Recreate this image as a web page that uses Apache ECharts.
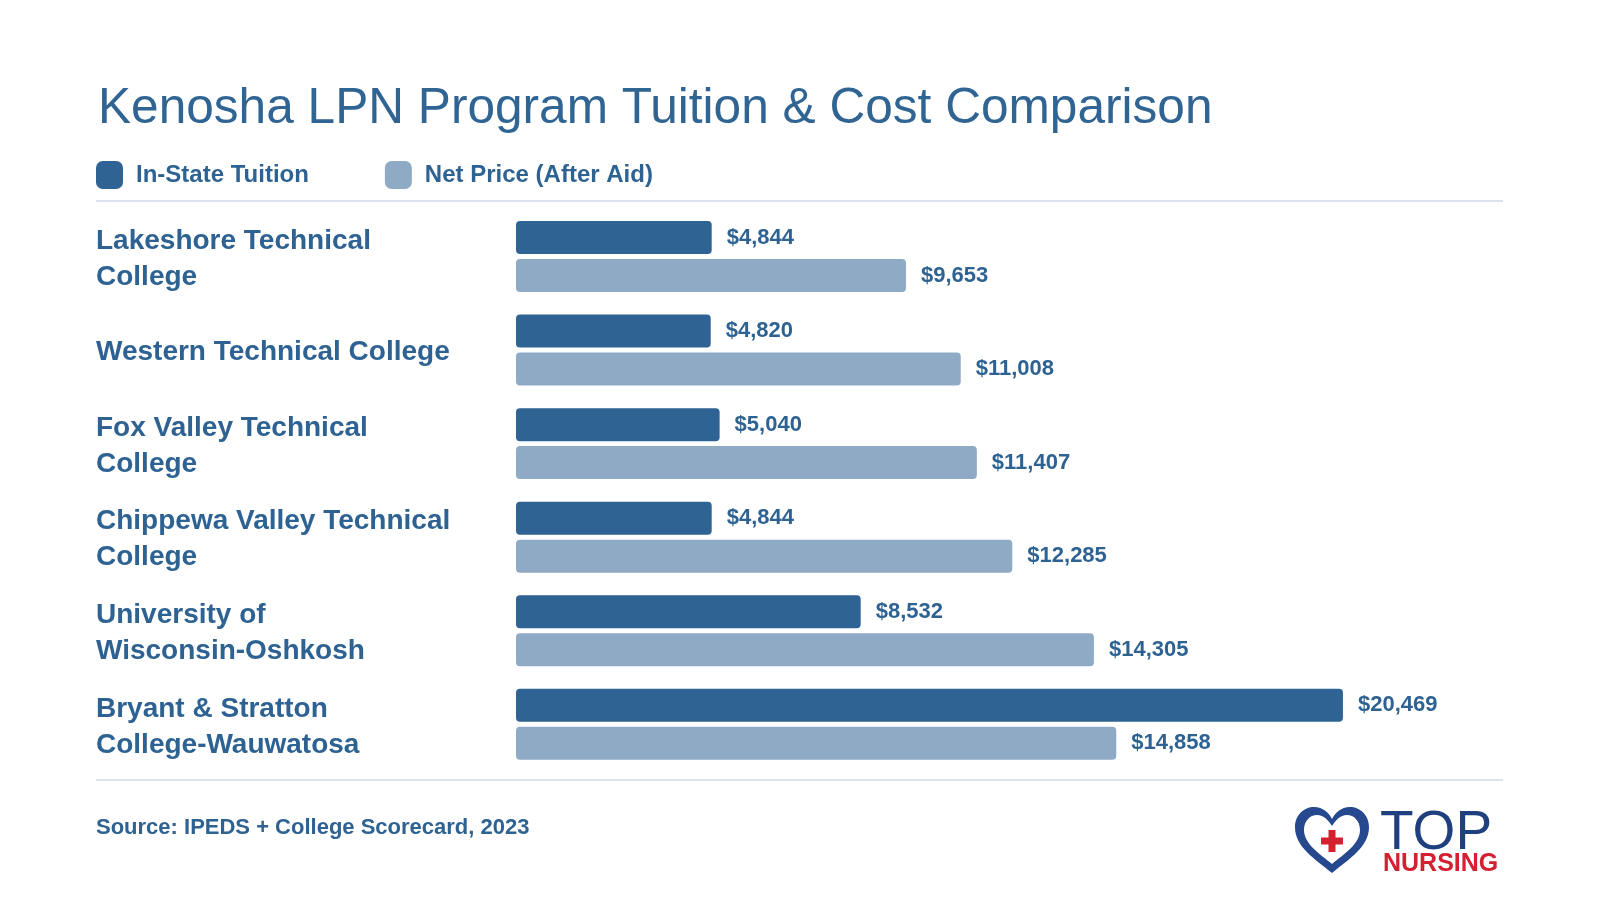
<!DOCTYPE html>
<html>
<head>
<meta charset="utf-8">
<script src="https://cdn.jsdelivr.net/npm/echarts@6/dist/echarts.min.js"></script>
<style>
html,body{margin:0;padding:0;background:#fff;}
#chart{width:1600px;height:900px;}
</style>
</head>
<body>
<div id="chart"></div>
<script>
const categories = [
  "Lakeshore Technical\nCollege",
  "Western Technical College",
  "Fox Valley Technical\nCollege",
  "Chippewa Valley Technical\nCollege",
  "University of\nWisconsin-Oshkosh",
  "Bryant & Stratton\nCollege-Wauwatosa"
];
const inStateTuition = [4844, 4820, 5040, 4844, 8532, 20469];
const netPrice = [9653, 11008, 11407, 12285, 14305, 14858];
const seriesNames = ["In-State Tuition", "Net Price (After Aid)"];
const titleText = "Kenosha LPN Program Tuition & Cost Comparison";
const sourceText = "Source: IPEDS + College Scorecard, 2023";

const FONT = '"Liberation Sans", Arial, Helvetica, sans-serif';
const TEXT = '#2d6292';
const DARK = '#2f6393';
const LIGHT = '#8faac5';

const fmt = v => '$' + v.toLocaleString('en-US');

const heartSvg = '<svg xmlns="http://www.w3.org/2000/svg" width="74" height="66" viewBox="0 0 74 66">' +
  '<path d="M37,66 C20,52 0,40 0,20 C0,8 9,0 19,0 C28,0 34,6 37,12 C40,6 46,0 55,0 C65,0 74,8 74,20 C74,40 54,52 37,66 Z" fill="#25488f"/>' +
  '<path d="M37,57 C25,47 9,37 9,23 C9,14 15,8 22,8 C29,8 33,13 37,19 C41,13 45,8 52,8 C59,8 65,14 65,23 C65,37 49,47 37,57 Z" fill="#ffffff"/>' +
  '<rect x="26" y="30.5" width="22" height="7" fill="#d42030"/>' +
  '<rect x="33.5" y="23" width="7" height="22" fill="#d42030"/>' +
  '</svg>';
const heartUri = 'data:image/svg+xml;charset=utf-8,' + encodeURIComponent(heartSvg);

const chart = echarts.init(document.getElementById('chart'));
chart.setOption({
  backgroundColor: '#ffffff',
  animation: false,
  title: {
    text: titleText,
    left: 93,
    top: 74,
    textStyle: { fontFamily: FONT, fontSize: 49.6, fontWeight: 'normal', color: '#2f6493', lineHeight: 60 }
  },
  legend: {
    left: 91,
    top: 156,
    itemWidth: 27,
    itemHeight: 28,
    itemGap: 76,
    icon: 'roundRect',
    selectedMode: false,
    textStyle: { fontFamily: FONT, fontSize: 24, fontWeight: 'bold', color: TEXT, padding: [0, 0, 0, 8] },
    data: seriesNames
  },
  grid: {
    left: 516,
    top: 209.7,
    width: 1010,
    height: 561.4,
    containLabel: false,
    outerBoundsMode: 'none'
  },
  xAxis: {
    type: 'value',
    min: 0,
    max: 25000,
    show: false
  },
  yAxis: {
    type: 'category',
    inverse: true,
    data: categories,
    axisLine: { show: false },
    axisTick: { show: false },
    splitLine: { show: false },
    axisLabel: {
      align: 'left',
      margin: 420,
      formatter: v => '{s| }\n' + v.split('\n').map(l => '{n|' + l + '}').join('\n'),
      rich: {
        s: { fontSize: 1, lineHeight: 5 },
        n: { fontFamily: FONT, fontSize: 28, fontWeight: 'bold', color: TEXT, lineHeight: 36 }
      }
    }
  },
  series: [
    {
      name: seriesNames[0],
      type: 'bar',
      data: inStateTuition,
      barWidth: 33,
      barGap: '15%',
      itemStyle: { color: DARK, borderRadius: 4 },
      label: {
        show: true, position: 'right', distance: 15,
        formatter: p => fmt(p.value),
        fontFamily: FONT, fontSize: 22, fontWeight: 'bold', color: TEXT
      }
    },
    {
      name: seriesNames[1],
      type: 'bar',
      data: netPrice,
      barWidth: 33,
      barGap: '15%',
      itemStyle: { color: LIGHT, borderRadius: 4 },
      label: {
        show: true, position: 'right', distance: 15,
        formatter: p => fmt(p.value),
        fontFamily: FONT, fontSize: 22, fontWeight: 'bold', color: TEXT
      }
    }
  ],
  graphic: [
    { type: 'line', shape: { x1: 96, y1: 201, x2: 1503, y2: 201 }, style: { stroke: '#dbe4ee', lineWidth: 2 } },
    { type: 'line', shape: { x1: 96, y1: 780, x2: 1503, y2: 780 }, style: { stroke: '#dbe4ee', lineWidth: 2 } },
    { type: 'text', x: 96, y: 828, style: { text: sourceText, fill: TEXT, font: 'bold 22px ' + FONT, verticalAlign: 'middle', align: 'left' } },
    { type: 'image', x: 1295, y: 807, style: { image: heartUri, width: 74, height: 66 } },
    { type: 'text', x: 1380, y: 834, style: { text: 'TOP', fill: '#1f3f7e', font: '55px ' + FONT, verticalAlign: 'middle', align: 'left' } },
    { type: 'text', x: 1383, y: 864, style: { text: 'NURSING', fill: '#d42030', font: 'bold 25px ' + FONT, verticalAlign: 'middle', align: 'left' } }
  ]
});
</script>
</body>
</html>
